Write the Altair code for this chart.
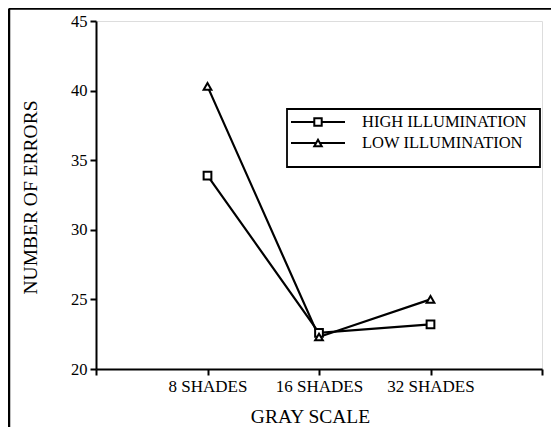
import altair as alt
import pandas as pd

categories = ["8 SHADES", "16 SHADES", "32 SHADES"]
series_names = ["HIGH ILLUMINATION", "LOW ILLUMINATION"]
high_values = [33.9, 22.6, 23.2]
low_values = [40.3, 22.3, 25.0]
shapes = ["square", "triangle-up"]

rows = []
for name, vals in zip(series_names, [high_values, low_values]):
    for i, (c, v) in enumerate(zip(categories, vals)):
        rows.append({"series": name, "cat": c, "pos": i + 1, "value": v})
df = pd.DataFrame(rows)

FONT = "Liberation Serif"
W, H = 446, 348

label_expr = " : ".join(
    [f"datum.value == {i+1} ? '{c}'" for i, c in enumerate(categories)]
) + " : ''"

x_enc = alt.X(
    "pos:Q",
    scale=alt.Scale(domain=[0, 4], nice=False, zero=False),
    axis=alt.Axis(
        values=[0, 1, 2, 3, 4],
        labelExpr=label_expr,
        title="GRAY SCALE",
        grid=False,
        tickSize=6,
        tickWidth=2,
        domainWidth=2,
        domainColor="black",
        tickColor="black",
        labelFont=FONT,
        labelFontSize=17,
        labelColor="black",
        labelBaseline="middle",
        labelPadding=11,
        titleFont=FONT,
        titleFontSize=19.5,
        titleFontWeight="normal",
        titleColor="black",
        titleX=214,
        titleY=47,
        titleBaseline="middle",
        titleAlign="center",
    ),
)
y_enc = alt.Y(
    "value:Q",
    scale=alt.Scale(domain=[20, 45], nice=False, zero=False),
    axis=alt.Axis(
        values=[20, 25, 30, 35, 40, 45],
        title="NUMBER OF ERRORS",
        grid=False,
        tickSize=6,
        tickWidth=2,
        domainWidth=2,
        domainColor="black",
        tickColor="black",
        labelFont=FONT,
        labelFontSize=16.5,
        labelColor="black",
        labelPadding=3,
        titleFont=FONT,
        titleFontSize=19.5,
        titleFontWeight="normal",
        titleColor="black",
        titleX=-66,
        titleY=176,
        titleAngle=270,
        titleBaseline="middle",
        titleAlign="center",
    ),
)

base = alt.Chart(df)
layers = []
for name in series_names:
    sub = base.transform_filter(alt.datum.series == name)
    layers.append(
        sub.mark_line(color="black", strokeWidth=2.2).encode(x=x_enc, y=y_enc)
    )
for name, shape in zip(series_names, shapes):
    sub = base.transform_filter(alt.datum.series == name)
    layers.append(
        sub.mark_point(
            shape=shape, filled=True, fill="white", stroke="black",
            strokeWidth=2, size=60, opacity=1
        ).encode(x=x_enc, y=y_enc)
    )

one = pd.DataFrame({"a": [0]})
# outer frame
layers.append(
    alt.Chart(one).mark_rule(color="black", strokeWidth=2.5).encode(
        x=alt.value(-87), y=alt.value(-12.5), y2=alt.value(420)
    )
)
layers.append(
    alt.Chart(one).mark_rule(color="black", strokeWidth=2.5).encode(
        x=alt.value(-87), x2=alt.value(460), y=alt.value(-12.5)
    )
)
# legend box
layers.append(
    alt.Chart(one).mark_rect(fill="white", stroke="black", strokeWidth=1.8).encode(
        x=alt.value(191), x2=alt.value(444), y=alt.value(88), y2=alt.value(146)
    )
)
for i, (name, shape) in enumerate(zip(series_names, shapes)):
    yy = 101 + i * 21
    layers.append(
        alt.Chart(one).mark_rule(color="black", strokeWidth=1.8).encode(
            x=alt.value(195), x2=alt.value(249), y=alt.value(yy)
        )
    )
    layers.append(
        alt.Chart(one).mark_point(
            shape=shape, filled=True, fill="white", stroke="black",
            strokeWidth=2, size=55, opacity=1
        ).encode(x=alt.value(222), y=alt.value(yy))
    )
    layers.append(
        alt.Chart(pd.DataFrame({"t": [name]})).mark_text(
            align="left", baseline="middle", font=FONT, fontSize=16.5, color="black"
        ).encode(x=alt.value(266), y=alt.value(yy), text="t:N")
    )

chart = alt.layer(*layers).properties(
    width=W, height=H,
    autosize=alt.AutoSizeParams(type="none"),
    padding={"left": 88, "top": 13, "right": 9, "bottom": 58},
).configure_view(stroke=None).configure(background="white")

chart.save("out.html", embed_options={"renderer": "svg", "actions": False})
